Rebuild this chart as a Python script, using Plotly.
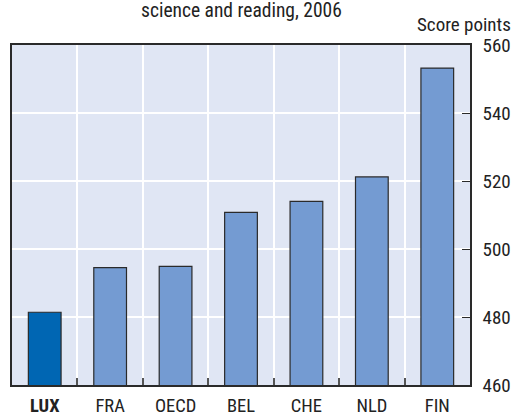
import plotly.graph_objects as go

categories = ["LUX", "FRA", "OECD", "BEL", "CHE", "NLD", "FIN"]
tick_labels = ["<b>LUX</b>", "FRA", "OECD", "BEL", "CHE", "NLD", "FIN"]
scores = [481.4, 494.5, 494.9, 510.8, 514.0, 521.2, 553.2]
bar_colors = ["#0066b3", "#749bd2", "#749bd2", "#749bd2", "#749bd2", "#749bd2", "#749bd2"]
y_ticks = [460, 480, 500, 520, 540, 560]

FONT = "Liberation Sans Narrow, Roboto Condensed, Arial Narrow, Liberation Sans, sans-serif"
FS = 19

fig = go.Figure()
fig.add_trace(go.Bar(
    x=categories, y=scores,
    marker=dict(color=bar_colors, line=dict(color="#2a2a2a", width=1.2)),
    width=0.5,
))

fig.update_layout(
    width=515, height=415,
    margin=dict(l=12, r=45, t=45, b=30, autoexpand=False),
    paper_bgcolor="white",
    plot_bgcolor="#e0e6f4",
    showlegend=False,
    font=dict(family=FONT, size=FS, color="#222222"),
    annotations=[
        dict(text="science and reading, 2006", x=0.5, xref="paper", y=1, yref="paper",
             xanchor="center", yanchor="middle", yshift=35, showarrow=False,
             font=dict(family=FONT, size=19.5, color="#222222")),
        dict(text="Score points", x=1, xref="paper", y=1, yref="paper",
             xanchor="right", yanchor="middle", xshift=43, yshift=21, showarrow=False,
             font=dict(family=FONT, size=FS, color="#222222")),
    ],
)
fig.update_xaxes(
    type="category", automargin=False,
    tickmode="array", tickvals=categories, ticktext=tick_labels,
    tickson="boundaries", ticks="inside", ticklen=7, tickcolor="#555555", tickwidth=1.5,
    showgrid=True, gridcolor="white", gridwidth=1.5,
    showline=True, linecolor="#2a2a2a", linewidth=1.5, mirror=True,
    tickfont=dict(family=FONT, size=18.5, color="#222222"),
    ticklabelstandoff=3,
    range=[-0.5, 6.5],
)
fig.update_yaxes(
    side="right", range=[460, 560], automargin=False,
    tickmode="array", tickvals=y_ticks,
    ticks="inside", ticklen=8, tickcolor="#2a2a2a", tickwidth=1.2,
    showgrid=True, gridcolor="white", gridwidth=1.5,
    showline=True, linecolor="#2a2a2a", linewidth=1.5, mirror=True,
    tickfont=dict(family=FONT, size=FS, color="#222222"),
    ticklabelstandoff=7,
    zeroline=False,
)

# remove the page's default 8px body margin so the figure sits at the window origin
fig.write_html("out.html", config={"displayModeBar": False},
               post_script="document.body.style.margin='0px';")
